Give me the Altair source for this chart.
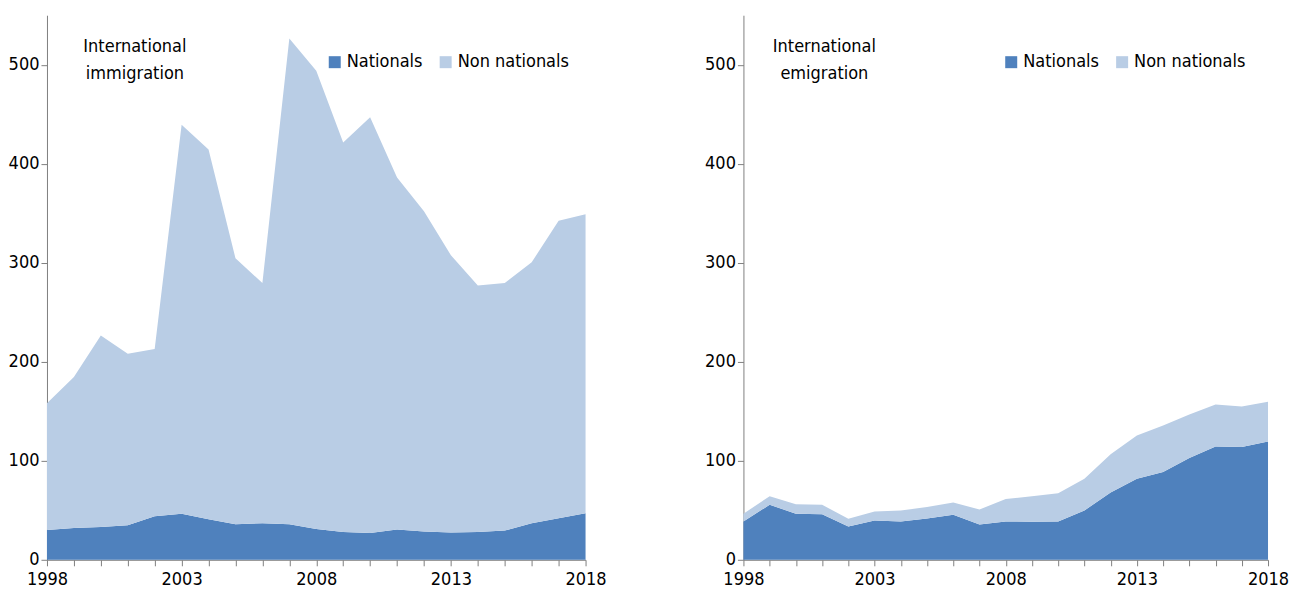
import altair as alt
import pandas as pd

years = list(range(1998, 2019))

imm_nationals = [30, 32, 33, 35, 44, 46.5, 41, 36, 37, 36, 31, 28, 27, 30.5, 28.5, 27.5, 28, 29.5, 37, 42, 47]
imm_total = [158, 184.5, 226.5, 208, 213, 439.5, 414.5, 304.5, 279.5, 526.5, 494, 421.5, 447, 386, 352, 307.5, 277, 279.5, 300.5, 342.5, 349]

emi_nationals = [38.7, 55.6, 46.5, 46, 33.7, 39.7, 38.7, 41.8, 45.5, 35.7, 38.7, 38.4, 38.7, 49.8, 68, 81.8, 88.6, 102.7, 114.5, 114, 119.5]
emi_total = [46.5, 64.3, 56.2, 55.6, 41.4, 48.8, 49.8, 53.2, 57.9, 50.8, 61.3, 64.3, 67.3, 81.8, 106.7, 125.6, 135.7, 146.8, 156.9, 154.9, 159.6]

series = ["Nationals", "Non nationals"]
colors = ["#4F81BD", "#B9CDE5"]
FONT = "'DejaVu Sans Condensed', 'Liberation Sans', Arial, sans-serif"
FS = 18


def make_df(nat, tot):
    rows = []
    for y, n, t in zip(years, nat, tot):
        rows.append({"year": y, "series": "Nationals", "value": n, "ord": 0})
        rows.append({"year": y, "series": "Non nationals", "value": round(t - n, 2), "ord": 1})
    return pd.DataFrame(rows)


def panel(df, title_lines, width, title_x, legend_x):
    base = alt.Chart(df)
    area = base.mark_area(opacity=1, line=False).encode(
        x=alt.X("year:Q",
                scale=alt.Scale(domain=[1998, 2018], nice=False, zero=False),
                axis=alt.Axis(values=years, format="d", title=None, grid=False,
                              labelExpr="(datum.value - 1998) % 5 == 0 ? datum.label : ''",
                              tickSize=6, labelPadding=5, domainColor="#808080",
                              tickColor="#808080", labelFontSize=FS, labelFont=FONT,
                              labelColor="#000000", labelFlush=False)),
        y=alt.Y("value:Q", stack="zero",
                scale=alt.Scale(domain=[0, 550], nice=False),
                axis=alt.Axis(values=[0, 100, 200, 300, 400, 500], title=None, grid=False,
                              tickSize=6, labelPadding=2, domainColor="#808080",
                              tickColor="#808080", labelFontSize=FS, labelFont=FONT,
                              labelColor="#000000")),
        color=alt.Color("series:N",
                        scale=alt.Scale(domain=series, range=colors),
                        legend=alt.Legend(title=None, orient="none", direction="horizontal",
                                          legendX=legend_x, legendY=38,
                                          symbolType="square", symbolSize=144,
                                          symbolStrokeWidth=0, labelFontSize=FS,
                                          labelFont=FONT, labelColor="#000000",
                                          labelOffset=3, columnPadding=14,
                                          symbolOpacity=1)),
        order=alt.Order("ord:Q", sort="ascending"),
    )
    txt = alt.Chart(pd.DataFrame({"t": [title_lines]})).mark_text(
        align="center", baseline="top", fontSize=FS, font=FONT, lineHeight=27,
        lineBreak="\n", color="#000000"
    ).encode(text="t:N", x=alt.value(title_x), y=alt.value(23))
    return (area + txt).properties(width=width, height=545)


left = panel(make_df(imm_nationals, imm_total), "International\nimmigration", 539, 88, 279)
right = panel(make_df(emi_nationals, emi_total), "International\nemigration", 525, 81, 259)

chart = alt.hconcat(left, right, spacing=98).resolve_legend(color="independent").properties(
    padding={"left": 0, "top": 7, "right": 0, "bottom": 0},
    background="white",
).configure_view(strokeWidth=0, stroke=None)

chart.save("out.html", embed_options={"renderer": "svg", "actions": False})
